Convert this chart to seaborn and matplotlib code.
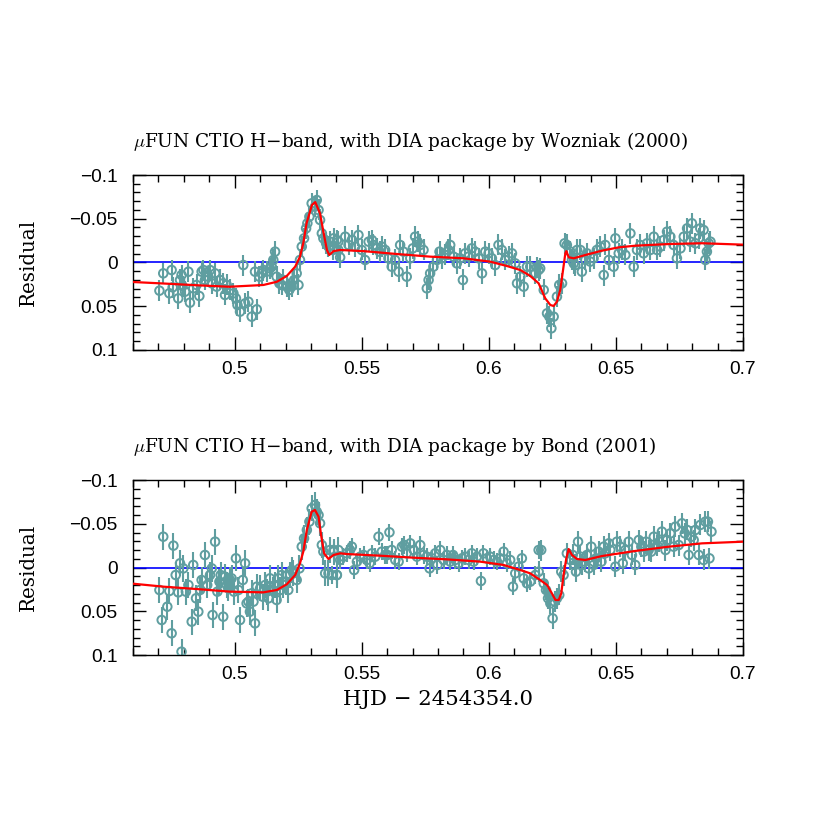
import numpy as np
import pandas as pd
import matplotlib
matplotlib.use("Agg")
import matplotlib.pyplot as plt
import seaborn as sns
from matplotlib.ticker import MultipleLocator

# ---------------- data ----------------
panel_titles = [r"$\mu$FUN CTIO H−band, with DIA package by Wozniak (2000)",
                r"$\mu$FUN CTIO H−band, with DIA package by Bond (2001)"]
x_ticks = [0.5, 0.55, 0.6, 0.65, 0.7]
x_tick_labels = ["0.5", "0.55", "0.6", "0.65", "0.7"]
y_ticks = [-0.1, -0.05, 0.0, 0.05, 0.1]
y_tick_labels = ["−0.1", "−0.05", "0", "0.05", "0.1"]

# top panel (Wozniak) data points
top_x = [0.4704,0.4719,0.4743,0.4752,0.4756,0.4778,0.4785,0.4791,0.4795,0.4805,0.4818,0.4824,0.4837,0.4850,0.4861,
         0.4870,0.4877,0.4883,0.4896,0.4903,0.4910,0.4923,0.4929,0.4942,0.4955,0.4962,0.4969,0.4982,0.4995,0.5005,
         0.5011,0.5021,0.5034,0.5041,0.5054,0.5067,0.5080,0.5087,0.5097,0.5106,0.5113,0.5126,0.5139,0.5146,0.5152,
         0.5159,0.5165,0.5176,0.5185,0.5192,0.5205,0.5215,0.5224,0.5234,0.5244,0.5251,0.5257,0.5264,0.5273,0.5281,
         0.5286,0.5294,0.5303,0.5316,0.5323,0.5330,0.5336,0.5343,0.5349,0.5360,0.5369,0.5375,0.5386,0.5402,0.5408,
         0.5389,0.5408,0.5415,0.5435,0.5448,0.5461,0.5474,0.5487,0.5500,0.5513,0.5527,0.5540,0.5546,0.5559,0.5570,
         0.5579,0.5592,0.5605,0.5618,0.5631,0.5645,0.5651,0.5664,0.5677,0.5691,0.5701,0.5710,0.5720,0.5730,0.5743,
         0.5756,0.5763,0.5769,0.5782,0.5796,0.5806,0.5815,0.5828,0.5841,0.5848,0.5861,0.5874,0.5887,0.5898,0.5907,
         0.5920,0.5933,0.5946,0.5960,0.5973,0.5986,0.5999,0.6012,0.6025,0.6038,0.6051,0.6064,0.6078,0.6091,0.6104,
         0.6111,0.6124,0.6137,0.6150,0.6163,0.6183,0.6196,
         0.6189,0.6202,0.6216,0.6229,0.6238,0.6246,0.6255,0.6268,0.6277,0.6288,0.6298,0.6307,0.6321,0.6327,0.6334,
         0.6340,0.6347,0.6360,0.6366,0.6380,0.6386,0.6399,0.6412,0.6425,0.6439,0.6452,0.6458,0.6472,0.6491,0.6498,
         0.6511,0.6524,0.6537,0.6557,0.6570,0.6583,0.6596,0.6609,0.6622,0.6635,0.6649,0.6662,0.6675,0.6688,0.6701,
         0.6714,0.6727,0.6740,0.6754,0.6767,0.6780,0.6793,0.6799,0.6813,0.6826,0.6832,0.6845,0.6852,0.6858,0.6865,
         0.6872]
top_y = [0.0322,0.0124,0.0352,0.0086,0.0284,0.0410,0.0200,0.0143,0.0269,0.0333,0.0105,0.0459,0.0295,0.0257,0.0383,
         0.0105,0.0086,0.0200,0.0162,0.0086,0.0238,0.0124,0.0276,0.0200,0.0238,0.0371,0.0257,0.0314,0.0352,0.0410,
         0.0486,0.0562,0.0029,0.0467,0.0448,0.0619,0.0105,0.0535,0.0162,0.0124,0.0086,0.0105,0.0067,0.0048,-0.0029,
         -0.0124,0.0162,0.0238,0.0257,0.0200,0.0276,0.0314,0.0276,0.0200,0.0124,0.0257,-0.0029,-0.0181,-0.0276,-0.0390,
         -0.0448,-0.0524,-0.0676,-0.0638,-0.0714,-0.0600,-0.0486,-0.0333,-0.0276,-0.0219,-0.0181,-0.0238,-0.0143,-0.0257,-0.0143,
         -0.0276,-0.0238,-0.0059,-0.0295,-0.0200,-0.0257,-0.0181,-0.0314,-0.0143,-0.0029,-0.0238,-0.0257,-0.0200,-0.0162,-0.0124,
         -0.0181,-0.0143,-0.0048,0.0048,-0.0029,0.0105,-0.0200,-0.0124,0.0162,-0.0048,-0.0162,-0.0295,-0.0238,-0.0200,-0.0143,
         0.0295,0.0200,0.0124,0.0048,-0.0029,-0.0124,-0.0048,-0.0086,-0.0143,-0.0200,-0.0067,0.0010,-0.0048,0.0200,-0.0105,
         -0.0067,-0.0162,-0.0124,-0.0048,0.0124,-0.0124,-0.0105,-0.0048,0.0029,-0.0200,-0.0143,-0.0029,-0.0067,-0.0105,0.0010,
         0.0238,0.0162,0.0276,0.0048,0.0048,0.0124,0.0086,
         0.0055,0.0067,0.0314,0.0581,0.0619,0.0752,0.0619,0.0390,0.0257,0.0238,-0.0219,-0.0200,-0.0124,-0.0029,0.0010,
         0.0029,-0.0143,-0.0143,0.0105,-0.0029,-0.0105,-0.0010,-0.0048,-0.0143,-0.0181,0.0143,-0.0200,-0.0029,0.0048,-0.0276,
         -0.0105,-0.0143,-0.0086,-0.0333,0.0048,-0.0143,-0.0200,-0.0105,-0.0219,-0.0143,-0.0295,-0.0143,-0.0181,-0.0257,-0.0352,
         -0.0295,-0.0200,-0.0048,-0.0162,-0.0295,-0.0390,-0.0238,-0.0448,-0.0219,-0.0276,-0.0390,-0.0371,-0.0029,-0.0124,-0.0219,
         -0.0238]
top_err = 0.012

# bottom panel (Bond) data points: left, middle and right groups
bot_x_left = [0.4704,0.4713,0.4719,0.4735,0.4743,0.4752,0.4759,0.4768,0.4778,0.4785,0.4791,0.4798,0.4808,0.4818,0.4831,
              0.4837,0.4848,0.4857,0.4864,0.4870,0.4883,0.4892,0.4903,0.4910,0.4913,0.4923,0.4932,0.4940,0.4945,0.4955,
              0.4962,0.4969,0.4975,0.4982,0.4988,0.4997,0.5005,0.5015,0.5021,0.5032,0.5041,0.5047,0.5054,0.5060,0.5067,
              0.5074,0.5080,0.5087,0.5100,0.5110,0.5120,0.5126,0.5133,0.5139,0.5150,0.5159,0.5165,0.5172,0.5179,0.5185,
              0.5192,0.5202,0.5211,0.5218,0.5225,0.5231,0.5244,0.5255,0.5264,0.5273,0.5284,0.5294,0.5303,0.5316,0.5323,
              0.5330,0.5336,0.5343,0.5349,0.5356,0.5369,0.5375,0.5389,0.5402,0.5408]
bot_y_left = [0.0257,0.0600,-0.0352,0.0448,0.0269,0.0752,-0.0250,0.0086,0.0284,-0.0048,0.0962,0.0010,0.0276,0.0200,0.0619,
              -0.0029,0.0352,0.0505,0.0257,0.0143,-0.0143,0.0200,0.0086,0.0010,0.0543,-0.0295,0.0276,0.0162,0.0086,0.0562,
              0.0105,0.0200,0.0238,0.0143,0.0124,0.0276,-0.0105,0.0257,0.0600,0.0143,-0.0048,0.0410,0.0390,0.0505,0.0295,
              0.0390,0.0638,0.0219,0.0238,0.0333,0.0200,0.0276,0.0352,0.0124,0.0257,0.0200,0.0371,0.0124,0.0257,0.0086,
              0.0200,0.0162,0.0257,0.0086,0.0029,0.0067,0.0143,0.0010,-0.0238,-0.0333,-0.0429,-0.0524,-0.0676,-0.0714,-0.0638,
              -0.0600,-0.0505,-0.0257,-0.0181,0.0067,0.0067,-0.0200,-0.0181,0.0086,-0.0200]
bot_err_left = 0.015
bot_x_mid = [0.5382,0.5389,0.5402,0.5415,0.5428,0.5441,0.5454,0.5461,0.5470,0.5481,0.5494,0.5507,0.5520,0.5531,0.5540,
             0.5553,0.5566,0.5579,0.5592,0.5601,0.5609,0.5618,0.5632,0.5645,0.5658,0.5667,0.5677,0.5691,0.5704,0.5717,
             0.5730,0.5743,0.5756,0.5767,0.5776,0.5789,0.5798,0.5809,0.5822,0.5835,0.5848,0.5859,0.5868,0.5881,0.5894,
             0.5907,0.5920,0.5933,0.5940,0.5953,0.5969,0.5979,0.5992,0.6005,0.6019,0.6032,0.6045,0.6058,0.6071,0.6084,
             0.6095,0.6104,0.6117,0.6130,0.6137,0.6150,0.6163,0.6183,0.6196]
bot_y_mid = [0.0086,-0.0200,0.0086,-0.0086,-0.0124,-0.0162,-0.0200,-0.0238,0.0029,-0.0067,-0.0124,-0.0143,-0.0086,-0.0048,-0.0162,
             -0.0124,-0.0352,-0.0181,-0.0143,-0.0143,-0.0402,-0.0200,-0.0086,-0.0067,-0.0238,-0.0257,-0.0162,-0.0276,-0.0200,-0.0124,
             -0.0257,-0.0143,-0.0124,0.0010,-0.0105,-0.0162,-0.0029,-0.0200,-0.0086,-0.0143,-0.0067,-0.0143,-0.0086,-0.0048,-0.0105,
             -0.0124,-0.0086,-0.0162,-0.0067,-0.0124,0.0154,-0.0162,-0.0105,-0.0124,-0.0086,-0.0067,-0.0105,-0.0181,-0.0048,-0.0086,
             0.0219,0.0067,-0.0010,-0.0105,0.0124,0.0181,0.0162,0.0086,-0.0200]
bot_err_mid = 0.010
bot_x_right = [0.6196,0.6206,0.6216,0.6225,0.6233,0.6242,0.6251,0.6259,0.6268,0.6277,0.6285,0.6294,0.6307,0.6321,0.6330,
               0.6338,0.6343,0.6351,0.6360,0.6366,0.6377,0.6386,0.6393,0.6403,0.6412,0.6422,0.6432,0.6443,0.6452,0.6458,
               0.6472,0.6478,0.6498,0.6504,0.6517,0.6527,0.6537,0.6550,0.6563,0.6576,0.6590,0.6600,0.6609,0.6618,0.6629,
               0.6639,0.6649,0.6662,0.6671,0.6681,0.6695,0.6701,0.6714,0.6727,0.6734,0.6747,0.6760,0.6771,0.6780,0.6786,
               0.6797,0.6806,0.6813,0.6826,0.6832,0.6845,0.6852,0.6862,0.6868,0.6876]
bot_y_right = [0.0048,-0.0200,0.0181,0.0257,0.0352,0.0410,0.0581,0.0390,0.0352,0.0314,0.0048,0.0086,-0.0162,-0.0086,-0.0143,
               -0.0029,0.0048,-0.0295,-0.0124,-0.0029,-0.0067,-0.0143,0.0010,-0.0238,-0.0029,-0.0105,-0.0181,-0.0067,-0.0238,-0.0162,
               -0.0276,-0.0200,-0.0010,-0.0295,-0.0238,-0.0048,-0.0200,-0.0295,-0.0143,-0.0029,-0.0314,-0.0238,-0.0181,-0.0295,-0.0200,
               -0.0181,-0.0352,-0.0257,-0.0295,-0.0410,-0.0200,-0.0314,-0.0390,-0.0238,-0.0467,-0.0257,-0.0505,-0.0390,-0.0429,-0.0143,
               -0.0352,-0.0314,-0.0429,-0.0143,-0.0486,-0.0086,-0.0524,-0.0524,-0.0105,-0.0410]
bot_err_right = 0.012

# model curves
top_model_x = [0.4600,0.4720,0.4850,0.4980,0.5113,0.5166,0.5205,0.5238,0.5257,0.5270,0.5283,0.5304,0.5317,0.5336,
               0.5349,0.5363,0.5372,0.5389,0.5415,0.5507,0.5638,0.5769,0.5900,0.6005,0.6071,0.6124,0.6163,0.6196,
               0.6222,0.6242,0.6255,0.6268,0.6281,0.6292,0.6301,0.6305,0.6314,0.6334,0.6380,0.6445,0.6511,0.6576,
               0.6708,0.6839,0.7000]
top_model_y = [0.0223,0.0240,0.0260,0.0277,0.0257,0.0220,0.0154,0.0048,-0.0067,-0.0220,-0.0450,-0.0657,-0.0690,-0.0560,
               -0.0350,-0.0143,-0.0086,-0.0130,-0.0143,-0.0130,-0.0097,-0.0067,-0.0048,-0.0010,0.0040,0.0086,0.0154,0.0238,
               0.0410,0.0486,0.0497,0.0448,0.0314,0.0086,-0.0105,-0.0130,-0.0060,-0.0048,-0.0086,-0.0135,-0.0173,-0.0192,
               -0.0211,-0.0220,-0.0204]
bot_model_x = [0.4600,0.4720,0.4850,0.4982,0.5113,0.5166,0.5205,0.5238,0.5257,0.5270,0.5284,0.5303,0.5316,0.5330,
               0.5340,0.5352,0.5369,0.5389,0.5415,0.5441,0.5572,0.5704,0.5835,0.5966,0.6058,0.6124,0.6163,0.6202,
               0.6229,0.6248,0.6262,0.6275,0.6285,0.6294,0.6305,0.6314,0.6327,0.6347,0.6380,0.6445,0.6576,0.6708,
               0.6839,0.7000]
bot_model_y = [0.0185,0.0219,0.0246,0.0276,0.0284,0.0257,0.0192,0.0086,-0.0048,-0.0181,-0.0429,-0.0638,-0.0657,-0.0581,
               -0.0371,-0.0162,-0.0097,-0.0143,-0.0162,-0.0154,-0.0135,-0.0112,-0.0093,-0.0067,-0.0029,0.0029,0.0067,0.0143,
               0.0200,0.0295,0.0371,0.0371,0.0295,0.0086,-0.0105,-0.0211,-0.0143,-0.0097,-0.0086,-0.0131,-0.0189,-0.0238,
               -0.0276,-0.0295]
zero_x = [0.46, 0.70]
zero_y = [0.0, 0.0]

# ---------------- style ----------------
sns.set_style("ticks")
plt.rcParams["font.family"] = ["Liberation Sans", "DejaVu Sans"]
plt.rcParams["mathtext.fontset"] = "cm"
plt.rcParams["text.color"] = "black"
plt.rcParams["axes.labelcolor"] = "black"
teal = "#5f9ea0"
label_font = ["DejaVu Serif", "DejaVu Sans"]

fig = plt.figure(figsize=(8.3, 8.3), dpi=100)
fig.patch.set_facecolor("white")
ax_top = fig.add_axes([133/830, 1-350/830, 610/830, 175/830])
ax_bot = fig.add_axes([133/830, 1-655/830, 610/830, 175/830])

bot_x = bot_x_left + bot_x_mid + bot_x_right
bot_y = bot_y_left + bot_y_mid + bot_y_right
bot_err = ([bot_err_left] * len(bot_x_left) + [bot_err_mid] * len(bot_x_mid)
           + [bot_err_right] * len(bot_x_right))

panels = [(ax_top, top_x, top_y, top_err, top_model_x, top_model_y, panel_titles[0]),
          (ax_bot, bot_x, bot_y, bot_err, bot_model_x, bot_model_y, panel_titles[1])]

for ax, px, py, perr, mx, my, title in panels:
    ax.set_facecolor("white")
    sns.lineplot(x=zero_x, y=zero_y, ax=ax, color="#0000ff", lw=1.2, zorder=1)
    ax.errorbar(px, py, yerr=perr, fmt="none", ecolor=teal, elinewidth=1.5, zorder=2)
    df = pd.DataFrame({"x": px, "y": py})
    sns.scatterplot(data=df, x="x", y="y", ax=ax, marker="o", s=38,
                    facecolor="none", edgecolor=teal, linewidth=1.4, zorder=3)
    sns.lineplot(x=mx, y=my, ax=ax, color="#ff0000", lw=1.6, sort=False,
                 estimator=None, zorder=4)
    ax.set_xlim(0.46, 0.70)
    ax.set_ylim(0.1, -0.1)
    ax.set_xticks(x_ticks, x_tick_labels)
    ax.set_yticks(y_ticks, y_tick_labels)
    ax.xaxis.set_minor_locator(MultipleLocator(0.01))
    ax.yaxis.set_minor_locator(MultipleLocator(0.01))
    ax.tick_params(which="both", direction="in", top=True, right=True,
                   color="black", width=1.0, labelsize=13.8, labelcolor="black")
    ax.tick_params(which="major", length=9.5)
    ax.tick_params(which="minor", length=4.7)
    ax.tick_params(axis="x", pad=8)
    ax.tick_params(axis="y", pad=11)
    for sp in ax.spines.values():
        sp.set_color("black")
        sp.set_linewidth(1.0)
        sp.set_visible(True)
    ax.set_xlabel("")
    ax.set_ylabel("Residual", family=label_font, fontsize=14.3, color="black")
    ax.yaxis.set_label_coords(-0.156, 0.5)
    ax.text(0.0, 1.194, title, transform=ax.transAxes, ha="left", va="center",
            family=label_font, fontsize=13.3, color="black")

ax_bot.set_xlabel("HJD − 2454354.0", family=label_font, fontsize=15.3, color="black")
ax_bot.xaxis.set_label_coords(0.5, -0.257)
ax_bot.xaxis.label.set_va("center")

fig.savefig("out.png", dpi=100, facecolor="white")
